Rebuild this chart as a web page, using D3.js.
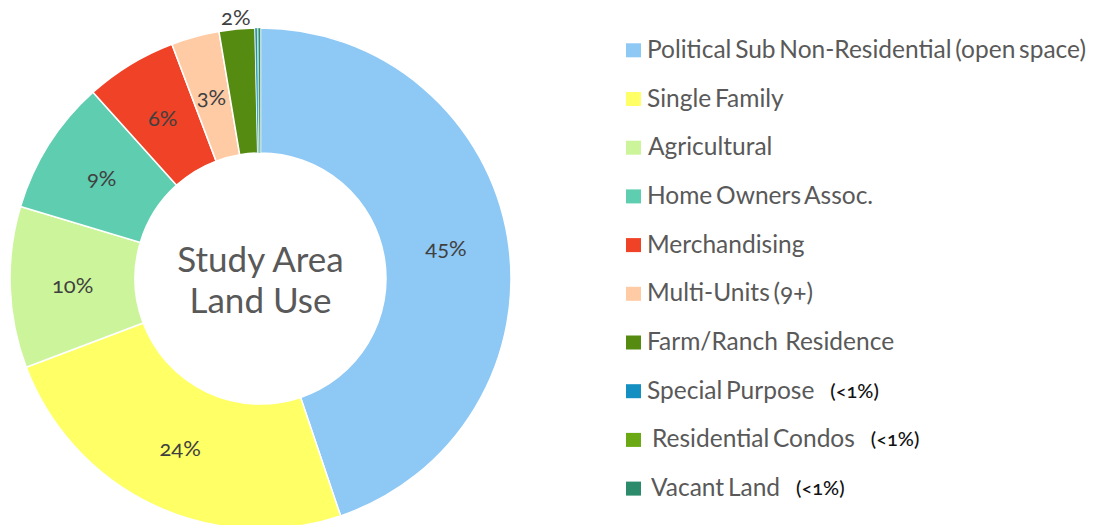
<!DOCTYPE html>
<html><head><meta charset="utf-8">
<script src="https://cdn.jsdelivr.net/npm/d3@7"></script>
<style>
html,body{margin:0;padding:0;background:#fff;}
svg{display:block;}
text{font-family:Lato,"Open Sans",sans-serif;}
</style></head>
<body>
<svg id="chart" width="1108" height="525"></svg>
<script>
const categories = ["Political Sub Non-Residential (open space)","Single Family","Agricultural","Home Owners Assoc.","Merchandising","Multi-Units (9+)","Farm/Ranch  Residence","Special Purpose","Residential Condos","Vacant Land"];
const values = [44.8, 24.4, 10.4, 8.7, 5.9, 3.1, 2.3, 0.15, 0.05, 0.15];
const sliceLabels = ["45%","24%","10%","9%","6%","3%","2%","","",""];
const legendNotes = ["","","","","","","","(<1%)","(<1%)","(<1%)"];
const colors = ["#8EC8F5","#FFFF66","#CCF59B","#5ECDB0","#F04226","#FFCBA5","#558B11","#1390C1","#6AA913","#2B8B6B"];
const centerTitle = ["Study Area","Land Use"];

const svg = d3.select("#chart");
const cx = 260.5, cy = 278.5, rOuter = 250.5, rInner = 125.5;

const pie = d3.pie().sort(null).value(d => d);
const arcs = pie(values);
const arc = d3.arc().innerRadius(rInner).outerRadius(rOuter);
const labelArc = d3.arc().innerRadius(rInner).outerRadius(rOuter);
const outerLabelArc = d3.arc().innerRadius(rOuter + 12).outerRadius(rOuter + 12);

const g = svg.append("g").attr("transform", `translate(${cx},${cy})`);
g.selectAll("path.slice").data(arcs).enter().append("path")
  .attr("class","slice")
  .attr("d", arc)
  .attr("fill", (d,i) => colors[i])
  .attr("stroke", "#fff")
  .attr("stroke-width", (d,i) => i >= 7 ? 0.4 : 1.5);

g.selectAll("text.lbl").data(arcs).enter().append("text")
  .attr("class","lbl")
  .attr("transform", (d,i) => {
    const c = (d.endAngle - d.startAngle) < 0.17 ? outerLabelArc.centroid(d) : labelArc.centroid(d);
    return `translate(${c[0]},${c[1]})`;
  })
  .attr("text-anchor","middle")
  .attr("dy","0.35em")
  .attr("font-size", 22)
  .attr("fill", "#404040")
  .style("font-variant-numeric","oldstyle-nums")
  .text((d,i) => sliceLabels[i]);

const ct = g.append("text").attr("text-anchor","middle").attr("fill","#595959").attr("font-size",35);
ct.selectAll("tspan").data(centerTitle).enter().append("tspan")
  .attr("x", 0).attr("y", (d,i) => -6.5 + i*41).text(d => d);

// legend
const legendY = d3.scaleLinear().domain([0, 9]).range([43.3, 481.6]);
const lg = svg.append("g");
const items = lg.selectAll("g.item").data(categories).enter().append("g").attr("class","item")
  .attr("transform", (d,i) => `translate(626,${legendY(i)})`);
items.append("rect").attr("width",15).attr("height",14).attr("fill",(d,i)=>colors[i]);
const indent = [0,0,1,0,0,0,0,0,5,4];
items.append("text")
  .attr("x", (d,i) => 21 + indent[i]).attr("y", 14.5)
  .attr("font-size", 24.5).attr("fill","#595959")
  .attr("word-spacing", -2.5)
  .style("font-variant-numeric","oldstyle-nums")
  .style("white-space","pre")
  .attr("xml:space","preserve")
  .text(d => d)
  .each(function(d,i){
    if (!legendNotes[i]) return;
    const w = this.getComputedTextLength();
    d3.select(this.parentNode).append("text")
      .attr("x", 21 + indent[i] + w + 16).attr("y", 13.5)
      .attr("font-size", 20).attr("fill","#111").attr("font-weight", 500)
      .style("font-variant-numeric","oldstyle-nums")
      .text(legendNotes[i]);
  });
</script>
</body></html>
